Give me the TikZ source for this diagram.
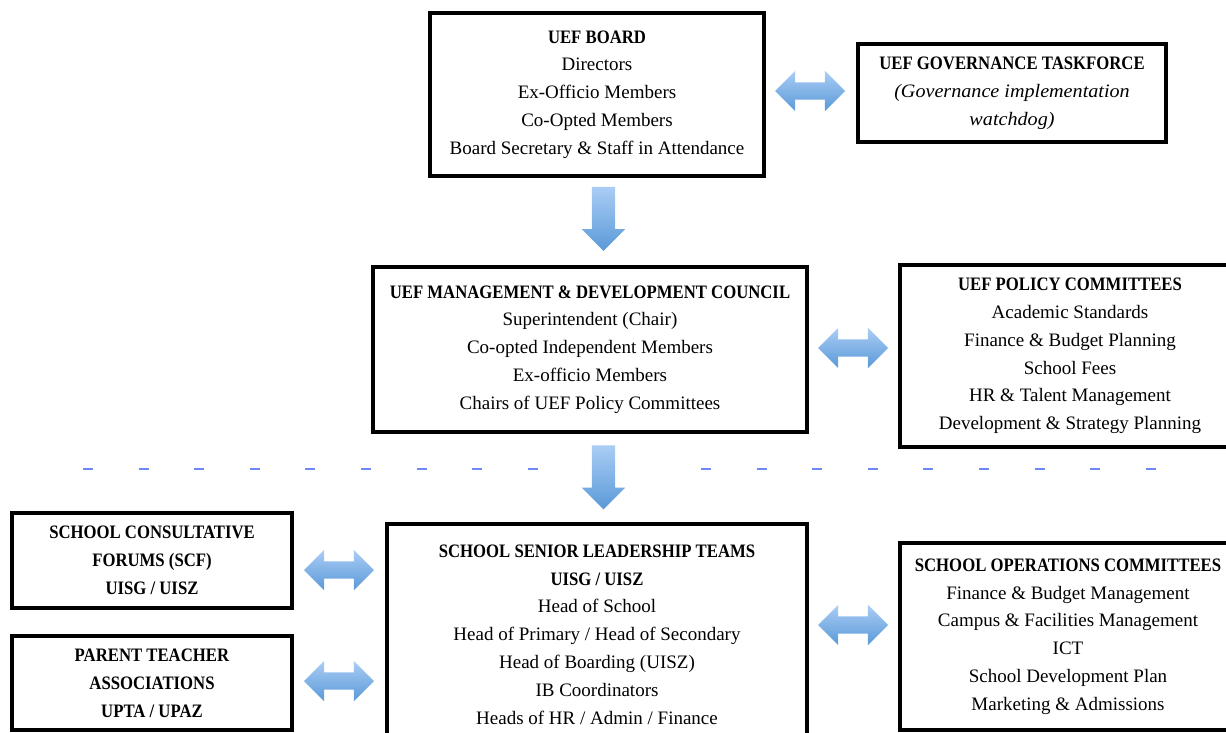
\documentclass[tikz,border=0pt]{standalone}
\usepackage{fontspec}
\setmainfont{Liberation Serif}[BoldFeatures={FakeStretch=0.88},
  ItalicFeatures={FakeStretch=1.06}]
\usepackage{tikz}
\usetikzlibrary{shapes.arrows}

\definecolor{arrowtop}{HTML}{AACDF5}
\definecolor{arrowbot}{HTML}{5A99D8}
\definecolor{divider}{HTML}{7088F5}

\tikzset{
  orgbox/.style={draw, line width=3.4pt, align=center, inner sep=0pt,
    font=\fontsize{19}{27.8}\selectfont},
  sidearrow/.style={double arrow, double arrow head extend=11.5pt,
    inner xsep=0pt, inner ysep=8.5pt, minimum width=40pt, minimum height=70pt,
    draw=none, top color=arrowtop, bottom color=arrowbot},
  downarrow/.style={single arrow, shape border rotate=270,
    single arrow head extend=10pt, inner sep=11.5pt,
    minimum width=43pt, minimum height=64pt,
    draw=none, top color=arrowtop, bottom color=arrowbot},
  divline/.style={divider, line width=2pt, dash pattern=on 10pt off 45.6pt}
}

\begin{document}
\begin{tikzpicture}[x=1pt, y=-1pt]
  \useasboundingbox (0,0) rectangle (1226,733);

  % top level
  \node[orgbox, minimum width=334pt, minimum height=163pt] (board) at (597,94.5)
    {\textbf{UEF BOARD}\\ Directors\\ Ex-Officio Members\\ Co-Opted Members\\
     Board Secretary \& Staff in Attendance};
  \node[orgbox, minimum width=308pt, minimum height=98pt] (taskforce) at (1012,93)
    {\textbf{UEF GOVERNANCE TASKFORCE}\\ \textit{(Governance implementation}\\
     \textit{watchdog)}};
  \node[sidearrow] (boardtask) at (810,91) {};
  \node[downarrow] (boarddown) at (603.5,213) {};

  % council level
  \node[orgbox, minimum width=434pt, minimum height=165pt] (council) at (590,349.5)
    {\textbf{UEF MANAGEMENT \& DEVELOPMENT COUNCIL}\\ Superintendent (Chair)\\
     Co-opted Independent Members\\ Ex-officio Members\\
     Chairs of UEF Policy Committees};
  \node[orgbox, minimum width=340pt, minimum height=182pt] (policy) at (1070,356)
    {\textbf{UEF POLICY COMMITTEES}\\ Academic Standards\\
     Finance \& Budget Planning\\ School Fees\\ HR \& Talent Management\\
     Development \& Strategy Planning};
  \node[sidearrow] (councilpolicy) at (853,348) {};

  % divider
  \draw[divline] (83,469) -- (540,469);
  \draw[divline] (701,469) -- (1158,469);
  \node[downarrow] (councildown) at (603.5,471.5) {};

  % school level
  \node[orgbox, minimum width=420pt, minimum height=221pt] (sslt) at (597,634.5)
    {\textbf{SCHOOL SENIOR LEADERSHIP TEAMS}\\ \textbf{UISG / UISZ}\\
     Head of School\\ Head of Primary / Head of Secondary\\
     Head of Boarding (UISZ)\\ IB Coordinators\\ Heads of HR / Admin / Finance};
  \node[orgbox, minimum width=280pt, minimum height=95pt] (scf) at (152,560.5)
    {\textbf{SCHOOL CONSULTATIVE}\\ \textbf{FORUMS (SCF)}\\ \textbf{UISG / UISZ}};
  \node[orgbox, minimum width=280pt, minimum height=94pt] (pta) at (152,683)
    {\textbf{PARENT TEACHER}\\ \textbf{ASSOCIATIONS}\\ \textbf{UPTA / UPAZ}};
  \node[orgbox, minimum width=336pt, minimum height=187pt] (ops) at (1068,636.5)
    {\textbf{SCHOOL OPERATIONS COMMITTEES}\\ Finance \& Budget Management\\
     Campus \& Facilities Management\\ ICT\\ School Development Plan\\
     Marketing \& Admissions};
  \node[sidearrow] (scfarrow) at (339,570) {};
  \node[sidearrow] (ptaarrow) at (339,681) {};
  \node[sidearrow] (opsarrow) at (853,625) {};

\end{tikzpicture}
\end{document}
